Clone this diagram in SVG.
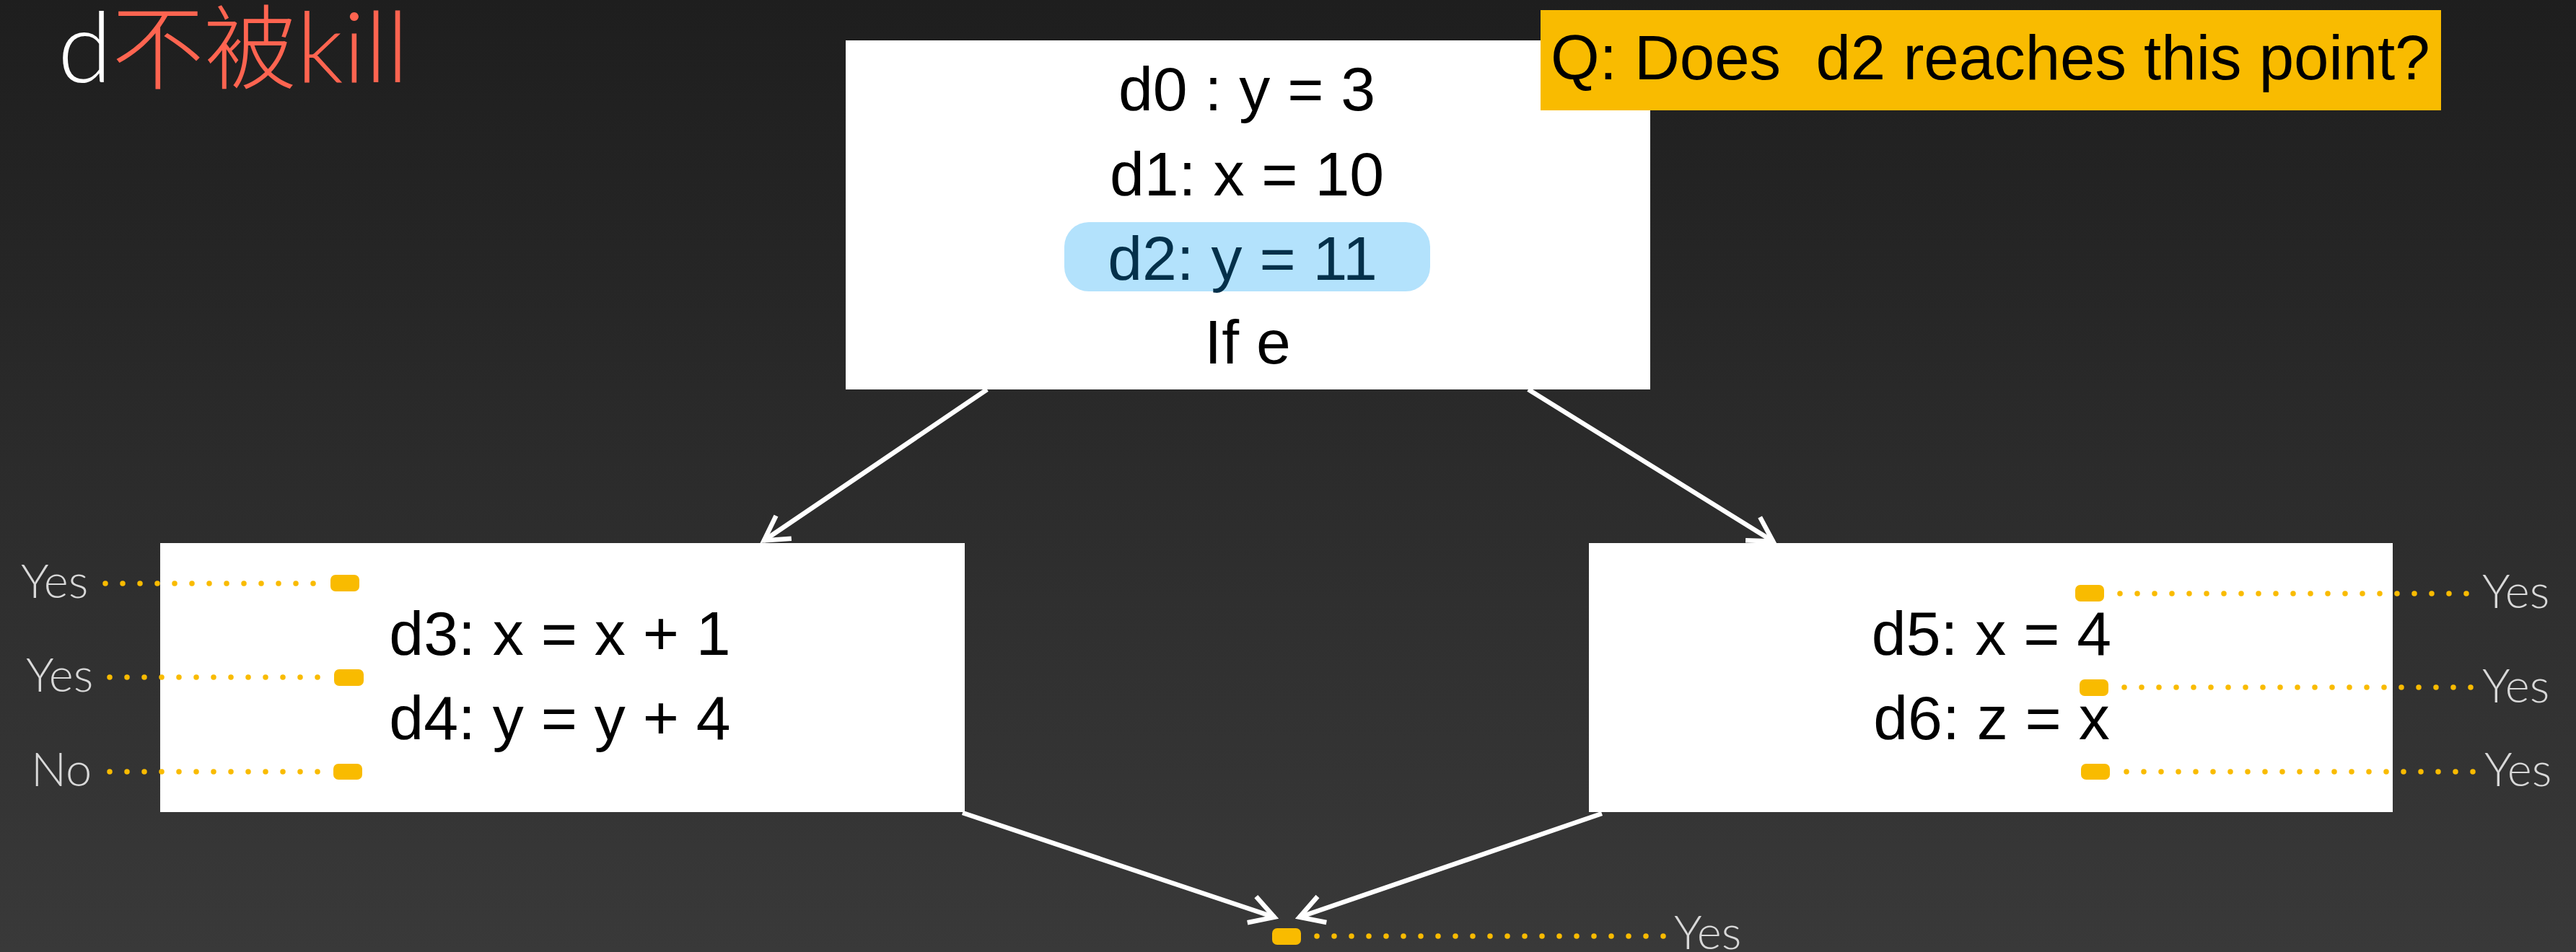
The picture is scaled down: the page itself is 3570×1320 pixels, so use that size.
<svg xmlns="http://www.w3.org/2000/svg" width="3570" height="1320" viewBox="0 0 3570 1320">
<defs>
<linearGradient id="bg" x1="0" y1="0" x2="0" y2="1">
<stop offset="0" stop-color="#1e1e1e"/>
<stop offset="1" stop-color="#393939"/>
</linearGradient>
<marker id="arr" markerUnits="userSpaceOnUse" markerWidth="80" markerHeight="80" viewBox="-50 -40 60 80" refX="0" refY="0" orient="auto">
<path d="M-34,-19 L-1,0 L-34,19" fill="none" stroke="#ffffff" stroke-width="6.5" stroke-linejoin="miter" stroke-miterlimit="10"/>
</marker>
<style>
.box{fill:#ffffff}
.code{font-family:"Liberation Sans",Arial,sans-serif;font-size:86px;fill:#000000;text-anchor:middle}
.ans{font-family:Lato,"Liberation Sans",sans-serif;font-weight:300;font-size:65px;fill:#d8d8d8}
.dots{stroke:#f9bb00;stroke-width:7.5;stroke-linecap:round;stroke-dasharray:0 24;fill:none}
.mk{fill:#f9bb00}
.edge{stroke:#ffffff;stroke-width:6.5;fill:none;marker-end:url(#arr)}
</style>
</defs>
<rect x="0" y="0" width="3570" height="1320" fill="url(#bg)"/>

<g id="title">
<text x="80" y="114" font-family="Lato,'Noto Sans CJK SC',sans-serif" font-weight="300" font-size="136"><tspan fill="#ffffff">d</tspan><tspan fill="#ff6450" font-family="'Noto Sans CJK SC',sans-serif" font-size="128">不被</tspan><tspan fill="#ff6450">kill</tspan></text>
</g>

<g id="connectors">
<line class="edge" x1="1368" y1="540" x2="1058" y2="750"/>
<line class="edge" x1="2118" y1="540" x2="2458" y2="751"/>
<line class="edge" x1="1334" y1="1127" x2="1767" y2="1272"/>
<line class="edge" x1="2220" y1="1128" x2="1800" y2="1272"/>
</g>

<g id="block-entry">
<rect class="box" x="1172" y="56" width="1115" height="484"/>
<rect x="1475" y="308" width="507" height="96" rx="34" fill="#b3e2fc"/>
<text class="code" x="1728" y="153">d0 : y = 3</text>
<text class="code" x="1728" y="271">d1: x = 10</text>
<text class="code" x="1722" y="388" style="fill:#04304a">d2: y = 11</text>
<text class="code" x="1729" y="504">If e</text>
</g>

<g id="question">
<rect x="2135" y="14" width="1248" height="139" fill="#f9bb00"/>
<text x="2149" y="110" font-family="'Liberation Sans',Arial,sans-serif" font-size="87" fill="#000000" style="white-space:pre" xml:space="preserve">Q: Does  d2 reaches this point?</text>
</g>

<g id="block-left">
<rect class="box" x="222" y="753" width="1115" height="373"/>
<text class="code" x="776" y="908">d3: x = x + 1</text>
<text class="code" x="776" y="1025">d4: y = y + 4</text>
</g>

<g id="block-right">
<rect class="box" x="2202" y="753" width="1114" height="373"/>
<text class="code" x="2760" y="908">d5: x = 4</text>
<text class="code" x="2760" y="1025">d6: z = x</text>
</g>

<g id="points-left">
<line class="dots" x1="146" y1="809" x2="436" y2="809"/>
<line class="dots" x1="152" y1="939" x2="442" y2="939"/>
<line class="dots" x1="152" y1="1070" x2="442" y2="1070"/>
<rect class="mk" x="458" y="797" width="40" height="23" rx="7"/>
<rect class="mk" x="463" y="928" width="41" height="23" rx="7"/>
<rect class="mk" x="462" y="1059" width="40" height="22" rx="7"/>
<text class="ans" x="29" y="829">Yes</text>
<text class="ans" x="36" y="959">Yes</text>
<text class="ans" x="43" y="1090">No</text>
</g>

<g id="points-right">
<line class="dots" x1="2938" y1="823" x2="3420" y2="823"/>
<line class="dots" x1="2944" y1="953" x2="3426" y2="953"/>
<line class="dots" x1="2947" y1="1070" x2="3429" y2="1070"/>
<rect class="mk" x="2876" y="811" width="40" height="23" rx="7"/>
<rect class="mk" x="2882" y="942" width="40" height="23" rx="7"/>
<rect class="mk" x="2884" y="1059" width="40" height="22" rx="7"/>
<text class="ans" x="3440" y="843">Yes</text>
<text class="ans" x="3440" y="974">Yes</text>
<text class="ans" x="3443" y="1090">Yes</text>
</g>

<g id="point-exit">
<line class="dots" x1="1825" y1="1298" x2="2307" y2="1298"/>
<rect class="mk" x="1763" y="1287" width="40" height="23" rx="7"/>
<text class="ans" x="2320" y="1316">Yes</text>
</g>
</svg>
